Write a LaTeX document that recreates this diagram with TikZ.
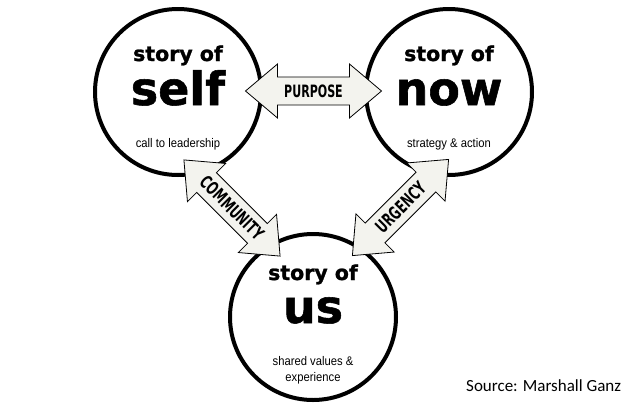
\documentclass[tikz,border=0pt]{standalone}
\usepackage{fontspec}
\setmainfont{Liberation Sans}
\newfontfamily\headfont[FakeBold=1.2]{DejaVu Sans Bold}
\newfontfamily\notefont[FakeStretch=0.9]{Liberation Sans}
\newfontfamily\tagfont[FakeStretch=0.65]{DejaVu Sans Bold}
\newfontfamily\srcfont{Carlito}
\usepackage{tikz}
\usetikzlibrary{positioning}

\definecolor{arrowfill}{HTML}{F3F3EE}

\begin{document}
\begin{tikzpicture}[
    x=1pt, y=-1pt,
    story/.style={circle, draw, line width=4pt, minimum size=166pt, inner sep=0pt},
    storyof/.style={anchor=base, inner sep=0pt, font=\headfont\fontsize{20.5}{24}\selectfont},
    bigword/.style={anchor=base, inner sep=0pt, font=\headfont\fontsize{46}{50}\selectfont},
    note/.style={anchor=base, inner sep=0pt, font=\notefont\fontsize{12.5}{15}\selectfont},
    blockarrow/.style={draw, line width=0.8pt, fill=arrowfill, line join=miter},
    tag/.style={inner sep=0pt, font=\tagfont\fontsize{17}{20}\selectfont}
]
\useasboundingbox (0,0) rectangle (638,408);

% Self circle
\node[story] (self) at (178,92) {};
\node[storyof] (selfstory) at ([yshift=31pt]self.center) {story of};
\node[bigword] (selfword) at ([yshift=-13pt]self.center) {self};
\node[note] (selfnote) at ([yshift=-55pt]self.center) {call to leadership};

% Now circle
\node[story] (now) at (449,92) {};
\node[storyof] (nowstory) at ([yshift=31pt]now.center) {story of};
\node[bigword] (nowword) at ([yshift=-13pt]now.center) {now};
\node[note] (nownote) at ([yshift=-55pt]now.center) {strategy \& action};

% Us circle
\node[story] (us) at (313,317) {};
\node[storyof] (usstory) at ([yshift=37pt]us.center) {story of};
\node[bigword] (usword) at ([yshift=-6pt]us.center) {us};
\node[note] (usnote) at ([yshift=-48pt]us.center) {shared values \&};
\node[note] (usnote2) at ([yshift=-64pt]us.center) {experience};

% Arrows
\foreach \px/\py/\ang/\name/\txt/\sz in {313.5/91/0/purpose/PURPOSE/17, 232/208/-45/community/COMMUNITY/18, 400.5/207.5/45/urgency/URGENCY/18}{
  \begin{scope}[shift={(\px,\py)}, rotate=\ang]
    \draw[blockarrow] (-68,0) -- (-36,-27) -- (-36,-14) -- (36,-14) -- (36,-27) -- (68,0)
      -- (36,27) -- (36,14) -- (-36,14) -- (-36,27) -- cycle;
  \end{scope}
  \node[tag, rotate=\ang, font=\tagfont\fontsize{\sz}{20}\selectfont] (\name) at (\px,\py) {\txt};
}

% Source
\node[anchor=base west, inner sep=0pt, font=\srcfont\fontsize{17}{20}\selectfont] (source) at (466,391) {Source: Marshall Ganz};

\end{tikzpicture}
\end{document}
